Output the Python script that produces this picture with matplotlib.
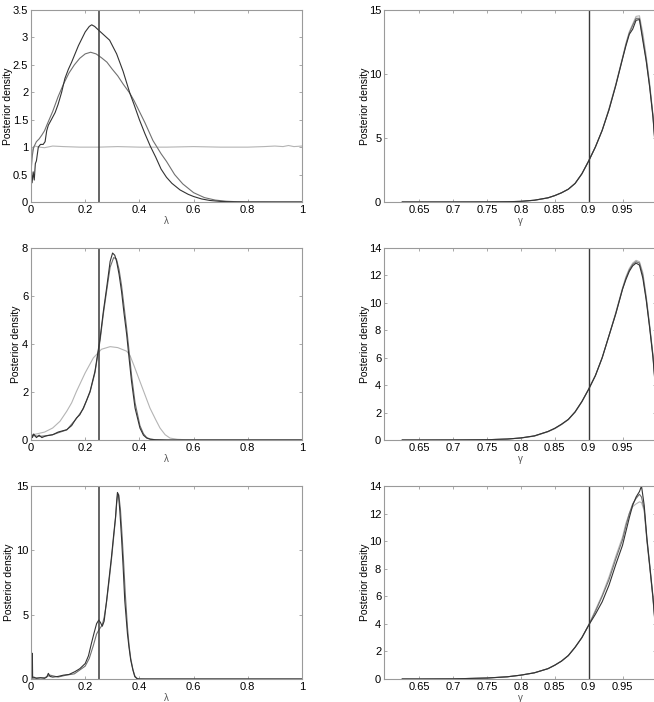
import matplotlib
matplotlib.use("Agg")
import matplotlib.pyplot as plt
from matplotlib.ticker import FuncFormatter

plt.rcParams['font.family'] = ['Liberation Sans', 'DejaVu Sans']

# ---------------- data: lambda panels ----------------
# Row 1 (lambda)
l1_dark_x = [0, 0.004, 0.008, 0.012, 0.016, 0.02, 0.027, 0.035, 0.045, 0.052, 0.058, 0.064, 0.075, 0.089, 0.1,
             0.113, 0.125, 0.138, 0.15, 0.175, 0.2, 0.215, 0.224, 0.235, 0.25, 0.27, 0.29, 0.316, 0.34, 0.365,
             0.38, 0.40, 0.42, 0.44, 0.46, 0.48, 0.50, 0.52, 0.55, 0.58, 0.60, 0.63, 0.66, 0.70, 0.75, 0.80, 0.9, 1.0]
l1_dark_y = [0.6, 0.35, 0.55, 0.4, 0.7, 0.75, 1.0, 1.05, 1.05, 1.1, 1.3, 1.4, 1.5, 1.63, 1.78,
             2.0, 2.25, 2.42, 2.55, 2.85, 3.1, 3.2, 3.23, 3.2, 3.13, 3.04, 2.95, 2.7, 2.38, 1.98,
             1.78, 1.5, 1.25, 1.02, 0.82, 0.6, 0.45, 0.34, 0.22, 0.14, 0.1, 0.055, 0.028, 0.01, 0.003, 0.0, 0.0, 0.0]
l1_mid_x = [0, 0.005, 0.01, 0.02, 0.03, 0.04, 0.05, 0.06, 0.08, 0.10, 0.12, 0.14, 0.16, 0.18, 0.20, 0.22,
            0.24, 0.26, 0.28, 0.30, 0.32, 0.34, 0.365, 0.38, 0.40, 0.42, 0.45, 0.48, 0.50, 0.53, 0.56, 0.60,
            0.64, 0.68, 0.72, 0.76, 0.80, 0.9, 1.0]
l1_mid_y = [0.55, 0.85, 1.0, 1.1, 1.15, 1.22, 1.3, 1.42, 1.65, 1.92, 2.15, 2.35, 2.5, 2.62, 2.7, 2.73,
            2.7, 2.63, 2.55, 2.42, 2.3, 2.15, 1.98, 1.85, 1.65, 1.45, 1.12, 0.88, 0.74, 0.5, 0.33, 0.17,
            0.08, 0.035, 0.014, 0.005, 0.002, 0.0, 0.0]
l1_light_x = [0, 0.004, 0.008, 0.015, 0.03, 0.05, 0.08, 0.12, 0.18, 0.25, 0.32, 0.4, 0.5, 0.6, 0.7, 0.8,
              0.86, 0.9, 0.93, 0.95, 0.97, 1.0]
l1_light_y = [0.75, 0.9, 1.0, 1.02, 1.0, 0.99, 1.02, 1.01, 1.0, 1.0, 1.01, 1.0, 1.0, 1.01, 1.0, 1.0,
              1.01, 1.02, 1.01, 1.03, 1.01, 1.02]

# Row 2 (lambda)
l2_dark_x = [0, 0.005, 0.01, 0.02, 0.03, 0.04, 0.05, 0.06, 0.08, 0.1, 0.132, 0.15, 0.168, 0.18, 0.193, 0.205,
             0.218, 0.236, 0.255, 0.267, 0.279, 0.292, 0.301, 0.309, 0.316, 0.325, 0.334, 0.343, 0.353, 0.362,
             0.371, 0.384, 0.402, 0.415, 0.427, 0.44, 0.46, 0.5, 0.6, 1.0]
l2_dark_y = [0.35, 0.1, 0.25, 0.1, 0.2, 0.1, 0.15, 0.18, 0.22, 0.33, 0.43, 0.6, 0.92, 1.05, 1.33, 1.65,
             2.03, 2.86, 4.25, 5.36, 6.33, 7.44, 7.79, 7.7, 7.44, 6.9, 6.2, 5.3, 4.4, 3.4,
             2.44, 1.33, 0.5, 0.2, 0.08, 0.03, 0.01, 0.0, 0.0, 0.0]
l2_mid_x = [0, 0.01, 0.03, 0.05, 0.08, 0.1, 0.132, 0.168, 0.193, 0.218, 0.236, 0.255, 0.267, 0.279, 0.292,
            0.305, 0.315, 0.325, 0.334, 0.343, 0.353, 0.362, 0.371, 0.384, 0.402, 0.415, 0.427, 0.44, 0.46,
            0.5, 0.6, 1.0]
l2_mid_y = [0.2, 0.18, 0.15, 0.17, 0.22, 0.3, 0.42, 0.9, 1.3, 2.0, 2.8, 4.15, 5.25, 6.2, 7.2,
            7.6, 7.55, 7.1, 6.45, 5.6, 4.65, 3.7, 2.7, 1.55, 0.6, 0.26, 0.1, 0.04, 0.01,
            0.0, 0.0, 0.0]
l2_light_x = [0, 0.05, 0.08, 0.107, 0.132, 0.15, 0.168, 0.2, 0.23, 0.26, 0.292, 0.32, 0.353, 0.365, 0.38,
              0.402, 0.42, 0.439, 0.46, 0.476, 0.495, 0.513, 0.54, 0.57, 0.6, 0.65, 1.0]
l2_light_y = [0.2, 0.33, 0.5, 0.78, 1.2, 1.55, 2.03, 2.8, 3.42, 3.78, 3.89, 3.85, 3.7, 3.53, 3.1,
              2.44, 1.9, 1.33, 0.85, 0.5, 0.22, 0.08, 0.03, 0.01, 0.003, 0.0, 0.0]

# Row 3 (lambda)
l3_dark_x = [0, 0.004, 0.005, 0.006, 0.01, 0.02, 0.035, 0.05, 0.058, 0.064, 0.07, 0.08, 0.1, 0.12, 0.14,
             0.162, 0.18, 0.2, 0.212, 0.223, 0.233, 0.242, 0.25, 0.256, 0.263, 0.27, 0.279, 0.288, 0.297,
             0.305, 0.312, 0.316, 0.319, 0.323, 0.328, 0.334, 0.34, 0.346, 0.356, 0.362, 0.368, 0.376,
             0.383, 0.39, 0.395, 0.42, 1.0]
l3_dark_y = [0.1, 0.2, 2.0, 0.1, 0.15, 0.05, 0.1, 0.05, 0.15, 0.44, 0.2, 0.15, 0.2, 0.3, 0.35,
             0.57, 0.8, 1.2, 1.8, 2.77, 3.6, 4.3, 4.58, 4.4, 4.1, 4.5, 6.1, 7.8, 9.5,
             11.2, 12.6, 13.8, 14.5, 14.3, 13.0, 11.0, 8.7, 6.1, 3.5, 2.4, 1.47, 0.7,
             0.18, 0.05, 0.0, 0.0, 0.0]
l3_mid_x = [0, 0.02, 0.05, 0.07, 0.1, 0.13, 0.16, 0.2, 0.215, 0.23, 0.242, 0.25, 0.263, 0.27, 0.279, 0.288,
            0.297, 0.305, 0.312, 0.316, 0.32, 0.324, 0.33, 0.336, 0.342, 0.348, 0.356, 0.362, 0.368,
            0.376, 0.383, 0.39, 0.4, 0.42, 1.0]
l3_mid_y = [0.05, 0.08, 0.1, 0.3, 0.15, 0.3, 0.4, 1.0, 1.6, 2.6, 3.5, 3.8, 4.2, 4.8, 6.0, 7.6,
            9.3, 11.0, 12.5, 13.6, 14.4, 14.3, 13.2, 11.2, 9.0, 6.6, 4.0, 2.6, 1.6,
            0.75, 0.25, 0.06, 0.01, 0.0, 0.0]

# ---------------- data: gamma panels ----------------
g_x = [0.625, 0.65, 0.70, 0.75, 0.78, 0.80, 0.82, 0.84, 0.85, 0.86, 0.87, 0.88, 0.89, 0.90, 0.91, 0.92,
       0.93, 0.94, 0.95, 0.955, 0.96, 0.965, 0.97, 0.975, 0.98, 0.985, 0.99, 0.995, 0.999]

g1_dark_y = [0, 0, 0, 0.005, 0.02, 0.05, 0.14, 0.33, 0.5, 0.72, 1.0, 1.45, 2.2, 3.2, 4.3, 5.6,
             7.2, 9.1, 11.2, 12.2, 13.1, 13.5, 14.2, 14.25, 12.6, 11.0, 9.0, 6.6, 3.8]
g1_mid_y = [0, 0, 0, 0.005, 0.02, 0.05, 0.14, 0.32, 0.5, 0.72, 1.0, 1.45, 2.2, 3.2, 4.3, 5.6,
            7.2, 9.1, 11.2, 12.3, 13.2, 13.8, 14.35, 14.35, 12.8, 11.1, 9.1, 6.7, 3.9]
g1_light_y = [0, 0, 0, 0.005, 0.02, 0.05, 0.13, 0.32, 0.5, 0.72, 1.0, 1.45, 2.2, 3.2, 4.3, 5.6,
              7.3, 9.2, 11.3, 12.4, 13.3, 13.9, 14.5, 14.55, 13.2, 11.4, 9.3, 6.8, 4.0]

g2_dark_y = [0, 0, 0.005, 0.02, 0.07, 0.15, 0.3, 0.62, 0.85, 1.15, 1.5, 2.05, 2.8, 3.7, 4.7, 6.0,
             7.6, 9.2, 11.0, 11.7, 12.3, 12.7, 12.9, 12.75, 11.8, 10.2, 8.2, 6.0, 3.5]
g2_mid_y = [0, 0, 0.005, 0.02, 0.07, 0.15, 0.3, 0.62, 0.85, 1.15, 1.5, 2.05, 2.8, 3.7, 4.7, 6.0,
            7.6, 9.2, 11.0, 11.8, 12.4, 12.8, 13.0, 12.9, 12.0, 10.3, 8.3, 6.1, 3.6]
g2_light_y = [0, 0, 0.005, 0.02, 0.07, 0.14, 0.28, 0.6, 0.82, 1.12, 1.48, 2.02, 2.78, 3.7, 4.7, 6.0,
              7.6, 9.3, 11.1, 11.9, 12.5, 12.9, 13.1, 13.0, 12.2, 10.5, 8.4, 6.2, 3.7]

g3_x = [0.625, 0.65, 0.70, 0.75, 0.78, 0.80, 0.82, 0.84, 0.85, 0.86, 0.87, 0.88, 0.89, 0.90, 0.91, 0.92,
        0.93, 0.94, 0.95, 0.955, 0.96, 0.965, 0.97, 0.975, 0.978, 0.982, 0.986, 0.99, 0.995, 0.999]
g3_dark_y = [0, 0, 0.01, 0.07, 0.16, 0.28, 0.45, 0.75, 1.0, 1.3, 1.7, 2.3, 3.0, 3.9, 4.7, 5.6,
             6.8, 8.3, 9.7, 10.7, 11.7, 12.6, 13.2, 13.6, 14.0, 12.6, 10.2, 8.3, 5.9, 3.5]
g3_mid_y = [0, 0, 0.01, 0.07, 0.16, 0.28, 0.45, 0.75, 1.0, 1.3, 1.7, 2.3, 3.0, 3.9, 4.9, 6.0,
            7.2, 8.7, 10.1, 11.1, 12.0, 12.7, 13.1, 13.4, 13.2, 12.3, 10.0, 8.2, 5.8, 3.4]
g3_light_y = [0, 0, 0.01, 0.07, 0.16, 0.28, 0.45, 0.75, 1.0, 1.3, 1.7, 2.3, 3.0, 3.9, 5.0, 6.1,
              7.4, 8.9, 10.3, 11.3, 12.0, 12.5, 12.7, 12.85, 12.8, 12.2, 10.2, 8.4, 6.0, 3.6]

lam_true = 0.25
gam_true = 0.9

lam_xticks = [0, 0.2, 0.4, 0.6, 0.8, 1.0]
gam_xticks = [0.65, 0.7, 0.75, 0.8, 0.85, 0.9, 0.95]
lam_yticks = [[0, 0.5, 1, 1.5, 2, 2.5, 3, 3.5], [0, 2, 4, 6, 8], [0, 5, 10, 15]]
gam_yticks = [[0, 5, 10, 15], [0, 2, 4, 6, 8, 10, 12, 14], [0, 2, 4, 6, 8, 10, 12, 14]]
lam_ylims = [3.5, 8, 15]
gam_ylims = [15, 14, 14]

# ---------------- styling / layout ----------------
DARK = "#333333"
MID = "#707070"
LIGHT = "#b4b4b4"
VLINE = "#3a3a3a"
FRAME = "#9a9a9a"
FS = 8

W, H = 654, 702
fig = plt.figure(figsize=(W / 100, H / 100), dpi=100)

rows_px = [(10, 202), (248, 440), (486, 679)]
left_px = (31, 302)
right_px = (384, 656.4)
# x pixel centre of the y-label per row, left and right column
ylab_left_px = [8, 16, 9]
ylab_right_px = [365, 365, 365]

fmt = FuncFormatter(lambda v, p: "%g" % v)


def make_ax(xpx, ypx, ylab_px):
    l = xpx[0] / W
    w = (xpx[1] - xpx[0]) / W
    b = (H - ypx[1]) / H
    h = (ypx[1] - ypx[0]) / H
    ax = fig.add_axes([l, b, w, h])
    for s in ax.spines.values():
        s.set_color(FRAME)
        s.set_linewidth(0.8)
    ax.tick_params(direction="in", top=True, right=True, length=2.5, width=0.6,
                   color=FRAME, labelsize=FS, pad=2)
    ax.xaxis.set_major_formatter(fmt)
    ax.yaxis.set_major_formatter(fmt)
    ax.set_ylabel("Posterior density", fontsize=7.5, va="center")
    ax.yaxis.set_label_coords((ylab_px - xpx[0]) / (xpx[1] - xpx[0]), 0.5)
    return ax


lam_data = [
    [(l1_light_x, l1_light_y, LIGHT), (l1_mid_x, l1_mid_y, MID), (l1_dark_x, l1_dark_y, DARK)],
    [(l2_light_x, l2_light_y, LIGHT), (l2_mid_x, l2_mid_y, MID), (l2_dark_x, l2_dark_y, DARK)],
    [(l3_mid_x, l3_mid_y, MID), (l3_dark_x, l3_dark_y, DARK)],
]
gam_data = [
    [(g_x, g1_light_y, LIGHT), (g_x, g1_mid_y, MID), (g_x, g1_dark_y, DARK)],
    [(g_x, g2_light_y, LIGHT), (g_x, g2_mid_y, MID), (g_x, g2_dark_y, DARK)],
    [(g3_x, g3_light_y, LIGHT), (g3_x, g3_mid_y, MID), (g3_x, g3_dark_y, DARK)],
]

for i, ypx in enumerate(rows_px):
    # lambda panel
    ax = make_ax(left_px, ypx, ylab_left_px[i])
    for xs, ys, c in lam_data[i]:
        ax.plot(xs, ys, color=c, lw=0.8)
    ax.axvline(lam_true, color=VLINE, lw=1.1)
    ax.set_xlim(0, 1)
    ax.set_ylim(0, lam_ylims[i])
    ax.set_xticks(lam_xticks)
    ax.set_yticks(lam_yticks[i])
    ax.set_xlabel("λ", fontsize=7, labelpad=1, color="#555555")

    # gamma panel
    ax = make_ax(right_px, ypx, ylab_right_px[i])
    for xs, ys, c in gam_data[i]:
        ax.plot(xs, ys, color=c, lw=0.8)
    ax.axvline(gam_true, color=VLINE, lw=1.0)
    ax.set_xlim(0.598, 1.0)
    ax.set_ylim(0, gam_ylims[i])
    ax.set_xticks(gam_xticks)
    ax.set_yticks(gam_yticks[i])
    ax.set_xlabel("γ", fontsize=7, labelpad=1, color="#555555")

fig.savefig("out.png", dpi=100)
